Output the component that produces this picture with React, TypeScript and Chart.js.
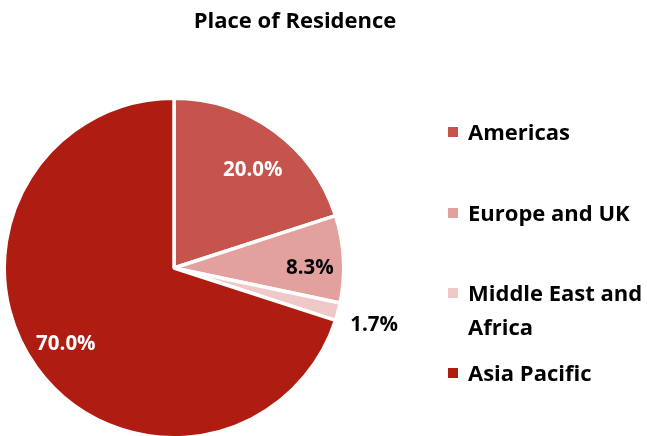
import React, { useEffect, useRef } from "react";
import { Chart, registerables } from "chart.js";

Chart.register(...registerables);

const categories = ["Americas", "Europe and UK", "Middle East and Africa", "Asia Pacific"];
const legendLines = [["Americas"], ["Europe and UK"], ["Middle East and", "Africa"], ["Asia Pacific"]];
const values = [20.0, 8.3, 1.7, 70.0];
const colors = ["#C5544D", "#E3A19D", "#EFC9C8", "#AF1C12"];
const labelColors = ["#FFFFFF", "#000000", "#000000", "#FFFFFF"];
const titleText = "Place of Residence";

const FONT = "'Open Sans', 'DejaVu Sans', sans-serif";
// label placement (style): radial factor of outer radius, angular nudge in degrees
const labelRadial = [0.745, 0.8, 1.223, 0.775];
const labelNudge = [2.5, 2.5, 0.5, 1.3];

const overlayPlugin = {
  id: "overlay",
  afterDraw(chart: any) {
    const ctx = chart.ctx as CanvasRenderingContext2D;
    ctx.save();
    // title
    ctx.fillStyle = "#000";
    ctx.font = `bold 22px ${FONT}`;
    ctx.textAlign = "center";
    ctx.textBaseline = "alphabetic";
    ctx.fillText(titleText, 295, 28);

    // data labels
    const meta = chart.getDatasetMeta(0);
    meta.data.forEach((arc: any, i: number) => {
      const { x, y, startAngle, endAngle, outerRadius } = arc.getProps(
        ["x", "y", "startAngle", "endAngle", "outerRadius"],
        true
      );
      const mid = (startAngle + endAngle) / 2 + (labelNudge[i] * Math.PI) / 180;
      const dist = outerRadius * labelRadial[i];
      const lx = x + Math.cos(mid) * dist;
      const ly = y + Math.sin(mid) * dist;
      const size = 20.5;
      ctx.font = `bold ${size}px ${FONT}`;
      ctx.fillStyle = labelColors[i];
      ctx.textAlign = "center";
      ctx.textBaseline = "alphabetic";
      ctx.fillText(values[i].toFixed(1) + "%", lx, ly + size * 0.36);
    });

    // legend
    const rowY = [132, 213, 293, 373];
    const lineGap = 34;
    const lsize = 22;
    legendLines.forEach((lines, i) => {
      ctx.fillStyle = colors[i];
      ctx.fillRect(448, rowY[i] - 5, 10, 10);
      ctx.fillStyle = "#000";
      ctx.font = `bold ${lsize}px ${FONT}`;
      ctx.textAlign = "left";
      ctx.textBaseline = "alphabetic";
      lines.forEach((t, j) => ctx.fillText(t, 468, rowY[i] + j * lineGap + lsize * 0.36));
    });
    ctx.restore();
  },
};

export default function App() {
  const ref = useRef<HTMLCanvasElement | null>(null);
  useEffect(() => {
    if (!ref.current) return;
    const bw = 3.5;
    const r = 168;
    const cx = 174;
    const cy = 268;
    const half = r + bw;
    const W = 647;
    const H = 445;
    const chart = new Chart(ref.current, {
      type: "pie",
      data: {
        labels: categories,
        datasets: [
          {
            data: values,
            backgroundColor: colors,
            borderColor: "#FFFFFF",
            borderWidth: bw,
          },
        ],
      },
      options: {
        responsive: false,
        animation: false,
        devicePixelRatio: 1,
        layout: {
          padding: {
            left: cx - half,
            top: cy - half,
            right: W - (cx + half),
            bottom: H - (cy + half),
          },
        },
        plugins: {
          legend: { display: false },
          title: { display: false },
          tooltip: { enabled: false },
        },
      },
      plugins: [overlayPlugin],
    });
    return () => chart.destroy();
  }, []);
  return (
    <div style={{ position: "fixed", left: 0, top: 0, width: 647, height: 436, overflow: "hidden", background: "#fff" }}>
      <canvas ref={ref} width={647} height={445} style={{ display: "block" }} />
    </div>
  );
}
